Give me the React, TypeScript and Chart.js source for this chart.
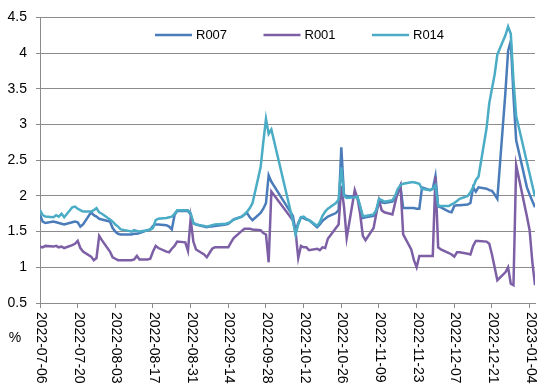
import React, { useEffect, useRef } from 'react';
import { Chart, registerables } from 'chart.js';

Chart.register(...registerables);

const dates = [
  '2022-07-06','2022-07-07','2022-07-08','2022-07-11','2022-07-12','2022-07-13','2022-07-14','2022-07-15',
  '2022-07-18','2022-07-19','2022-07-20','2022-07-21','2022-07-22','2022-07-25','2022-07-26','2022-07-27',
  '2022-07-28','2022-07-29','2022-08-01','2022-08-02','2022-08-03','2022-08-04','2022-08-05','2022-08-08',
  '2022-08-09','2022-08-10','2022-08-11','2022-08-12','2022-08-15','2022-08-16','2022-08-17','2022-08-18',
  '2022-08-19','2022-08-22','2022-08-23','2022-08-24','2022-08-25','2022-08-26','2022-08-29','2022-08-30',
  '2022-08-31','2022-09-01','2022-09-02','2022-09-05','2022-09-06','2022-09-07','2022-09-08','2022-09-09',
  '2022-09-13','2022-09-14','2022-09-15','2022-09-16','2022-09-19','2022-09-20','2022-09-21','2022-09-22',
  '2022-09-23','2022-09-26','2022-09-27','2022-09-28','2022-09-29','2022-09-30','2022-10-08','2022-10-09',
  '2022-10-10','2022-10-11','2022-10-12','2022-10-13','2022-10-14','2022-10-17','2022-10-18','2022-10-19',
  '2022-10-20','2022-10-21','2022-10-24','2022-10-25','2022-10-26','2022-10-27','2022-10-28','2022-10-31',
  '2022-11-01','2022-11-02','2022-11-03','2022-11-04','2022-11-07','2022-11-08','2022-11-09','2022-11-10',
  '2022-11-11','2022-11-14','2022-11-15','2022-11-16','2022-11-17','2022-11-18','2022-11-21','2022-11-22',
  '2022-11-23','2022-11-24','2022-11-25','2022-11-28','2022-11-29','2022-11-30','2022-12-01','2022-12-02',
  '2022-12-05','2022-12-06','2022-12-07','2022-12-08','2022-12-09','2022-12-12','2022-12-13','2022-12-14',
  '2022-12-15','2022-12-16','2022-12-19','2022-12-20','2022-12-21','2022-12-22','2022-12-23','2022-12-26',
  '2022-12-27','2022-12-28','2022-12-29','2022-12-30','2023-01-03','2023-01-04','2023-01-05','2023-01-06',
];

const r007 = [
  1.73,1.64,1.62,1.64,1.63,1.62,1.61,1.60,
  1.63,1.64,1.63,1.57,1.60,1.77,1.73,1.71,
  1.68,1.67,1.64,1.55,1.50,1.47,1.46,1.46,
  1.46,1.47,1.47,1.48,1.52,1.53,1.58,1.60,
  1.60,1.59,1.57,1.53,1.73,1.79,1.79,1.79,
  1.74,1.62,1.60,1.57,1.56,1.57,1.57,1.58,
  1.60,1.61,1.64,1.67,1.71,1.74,1.76,1.70,
  1.66,1.76,1.82,1.90,2.29,2.20,1.72,1.51,
  1.62,1.70,1.69,1.67,1.66,1.56,1.60,1.65,
  1.68,1.71,1.76,1.80,2.68,2.01,2.00,1.99,
  1.98,1.85,1.69,1.70,1.72,1.80,1.92,1.91,
  1.90,1.92,1.97,2.03,2.13,1.83,1.83,1.83,
  1.82,1.82,2.12,2.08,2.10,2.28,1.85,1.84,
  1.78,1.77,1.86,1.87,1.87,1.88,1.90,2.12,
  2.06,2.12,2.10,2.08,2.07,2.02,1.96,3.45,
  4.03,4.17,3.40,2.78,2.12,2.02,1.93,1.84,
];

const r001 = [
  1.29,1.28,1.30,1.29,1.30,1.28,1.29,1.27,
  1.31,1.33,1.37,1.27,1.22,1.15,1.10,1.13,
  1.44,1.38,1.22,1.14,1.12,1.10,1.10,1.10,
  1.10,1.11,1.16,1.11,1.11,1.12,1.22,1.30,
  1.27,1.22,1.21,1.26,1.30,1.36,1.35,1.23,
  1.68,1.36,1.25,1.18,1.14,1.20,1.26,1.28,
  1.28,1.28,1.35,1.41,1.51,1.54,1.54,1.54,
  1.53,1.52,1.48,1.46,1.07,2.06,1.66,1.50,
  1.13,1.30,1.28,1.28,1.24,1.26,1.24,1.28,
  1.27,1.40,1.55,1.60,2.14,1.85,1.41,2.08,
  1.97,1.75,1.44,1.38,1.55,1.75,1.94,1.80,
  1.77,1.74,1.90,2.06,2.15,1.46,1.25,1.10,
  1.00,1.16,1.16,1.16,1.16,2.27,1.28,1.25,
  1.20,1.18,1.15,1.21,1.21,1.19,1.18,1.30,
  1.37,1.37,1.36,1.33,1.18,1.00,0.82,0.93,
  1.00,0.77,0.75,2.43,1.71,1.52,1.08,0.75,
];

const r014 = [
  1.80,1.73,1.71,1.70,1.73,1.71,1.75,1.70,
  1.84,1.85,1.82,1.80,1.78,1.78,1.80,1.83,
  1.77,1.75,1.67,1.64,1.60,1.57,1.53,1.51,
  1.50,1.52,1.51,1.50,1.52,1.53,1.55,1.66,
  1.68,1.69,1.70,1.71,1.75,1.80,1.80,1.80,
  1.76,1.62,1.60,1.58,1.57,1.58,1.59,1.60,
  1.61,1.62,1.64,1.67,1.71,1.74,1.78,1.83,
  1.90,2.40,2.75,3.08,2.87,2.93,1.65,1.46,
  1.60,1.70,1.71,1.68,1.66,1.58,1.63,1.72,
  1.78,1.82,1.90,1.95,2.40,2.00,1.97,1.98,
  1.99,1.85,1.72,1.72,1.74,1.80,1.96,1.94,
  1.92,1.94,2.00,2.10,2.15,2.17,2.19,2.19,
  2.18,2.17,2.10,2.08,2.10,2.15,1.86,1.86,
  1.86,1.88,1.90,1.93,1.96,2.00,2.05,2.12,
  2.22,2.27,2.95,3.30,3.50,3.70,3.98,4.25,
  4.37,4.27,3.62,3.12,2.47,2.31,2.15,1.99,
];

const tickLabels = [
  '2022-07-06','2022-07-20','2022-08-03','2022-08-17','2022-08-31','2022-09-14','2022-09-28',
  '2022-10-12','2022-10-26','2022-11-09','2022-11-23','2022-12-07','2022-12-21','2023-01-04',
];

const seriesNames = ['R007', 'R001', 'R014'];
const seriesValues = [r007, r001, r014];
const seriesColors = ['#4a7cba', '#7d5fa5', '#4bacc6'];
const unitLabel = '%';

const START = Date.parse(dates[0]);
const AXIS_END = '2023-01-06';
const dayOf = (s: string) => (Date.parse(s) - START) / 86400000;

const FONT = '"Liberation Sans", Arial, sans-serif';
const GRID = '#8c8c8c';

const overlayPlugin = {
  id: 'overlay',
  afterDraw(chart: any) {
    const { ctx, chartArea, scales } = chart;
    const xs = scales.x;
    ctx.save();
    ctx.fillStyle = '#000';
    ctx.font = `14px ${FONT}`;
    ctx.textAlign = 'left';
    ctx.textBaseline = 'middle';
    tickLabels.forEach((lbl) => {
      const px = xs.getPixelForValue(dayOf(lbl));
      ctx.save();
      ctx.translate(px + 1, chartArea.bottom + 9);
      ctx.rotate(Math.PI / 2);
      ctx.fillText(lbl, 0, 0);
      ctx.restore();
    });
    ctx.textAlign = 'center';
    ctx.fillText(unitLabel, 15, chartArea.bottom + 35);

    // legend inside the plot area
    ctx.font = `13px ${FONT}`;
    ctx.textAlign = 'left';
    const ly = chartArea.top + 17.5;
    seriesNames.forEach((name, i) => {
      const x0 = 155 + i * 108.5;
      ctx.strokeStyle = seriesColors[i];
      ctx.lineWidth = 2.5;
      ctx.beginPath();
      ctx.moveTo(x0, ly);
      ctx.lineTo(x0 + 37, ly);
      ctx.stroke();
      ctx.fillStyle = '#000';
      ctx.fillText(name, x0 + 41, ly + 1);
    });
    ctx.restore();
  },
};

export default function App() {
  const ref = useRef<HTMLCanvasElement | null>(null);
  useEffect(() => {
    document.body.style.margin = '0';
    const canvas = ref.current;
    if (!canvas) return;
    Chart.defaults.font.family = FONT;
    const chart = new Chart(canvas, {
      type: 'line',
      data: {
        datasets: seriesNames.map((name, i) => ({
          label: name,
          data: dates.map((d, j) => ({ x: dayOf(d), y: seriesValues[i][j] })),
          borderColor: seriesColors[i],
          backgroundColor: seriesColors[i],
          borderWidth: 2.5,
          pointRadius: 0,
          tension: 0,
          fill: false,
          order: 2 - i,
        })),
      },
      options: {
        animation: false,
        responsive: false,
        maintainAspectRatio: false,
        layout: { padding: { top: 13, right: 9, left: 0, bottom: 0 } },
        plugins: { legend: { display: false }, tooltip: { enabled: false } },
        scales: {
          x: {
            type: 'linear',
            min: 0,
            max: dayOf(AXIS_END),
            afterBuildTicks: (scale: any) => {
              scale.ticks = tickLabels.map((l) => ({ value: dayOf(l) }));
            },
            afterFit: (scale: any) => {
              scale.height = 87;
            },
            ticks: { display: false },
            grid: { drawOnChartArea: false, drawTicks: true, tickLength: 5, color: GRID },
            border: { display: true, color: GRID, width: 1 },
          },
          y: {
            type: 'linear',
            min: 0.5,
            max: 4.5,
            afterFit: (scale: any) => {
              scale.width = 40;
            },
            ticks: {
              stepSize: 0.5,
              callback: (v: any) => String(v),
              color: '#000',
              font: { size: 14, family: FONT },
              padding: 9,
            },
            grid: { color: GRID, lineWidth: 1, tickLength: 4 },
            border: { display: true, color: GRID, width: 1 },
          },
        },
      },
      plugins: [overlayPlugin],
    });
    return () => chart.destroy();
  }, []);
  return <canvas ref={ref} width={544} height={390} style={{ display: 'block' }} />;
}
